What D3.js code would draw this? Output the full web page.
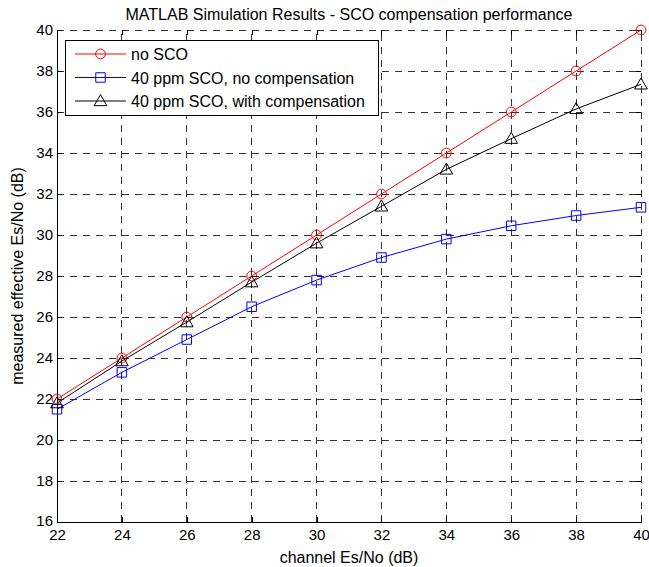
<!DOCTYPE html>
<html>
<head>
<meta charset="utf-8">
<script src="https://cdn.jsdelivr.net/npm/d3@7"></script>
<style>
  body { margin: 0; background: #fff; }
  svg { font-family: "Liberation Sans", Arial, sans-serif; }
</style>
</head>
<body>
<div id="graph"></div>
<script>
const width = 649, height = 567;
const margin = {top: 30, right: 8, bottom: 45, left: 57};

// data
const channelSNR = [22, 24, 26, 28, 30, 32, 34, 36, 38, 40];
const noSCO = [22, 24, 26, 28, 30, 32, 34, 36, 38, 40];
const scoNoComp = [21.5, 23.3, 24.9, 26.5, 27.8, 28.9, 29.8, 30.45, 30.95, 31.35];
const scoWithComp = [21.8, 23.85, 25.75, 27.7, 29.6, 31.4, 33.2, 34.7, 36.15, 37.35];
const xTicks = [22, 24, 26, 28, 30, 32, 34, 36, 38, 40];
const yTicks = [16, 18, 20, 22, 24, 26, 28, 30, 32, 34, 36, 38, 40];

const series = [
  {name: "no SCO", values: noSCO, color: "#ff0000", marker: "circle"},
  {name: "40 ppm SCO, no compensation", values: scoNoComp, color: "#0000ff", marker: "square"},
  {name: "40 ppm SCO, with compensation", values: scoWithComp, color: "#000000", marker: "triangle"}
];

const x = d3.scaleLinear().domain([22, 40]).range([margin.left, width - margin.right]);
const y = d3.scaleLinear().domain([16, 40]).range([height - margin.bottom, margin.top]);

const svg = d3.select("#graph").append("svg")
  .attr("width", width).attr("height", height);

const x0 = x.range()[0], x1 = x.range()[1], y0 = y.range()[0], y1 = y.range()[1];

// grid
const grid = svg.append("g")
  .attr("stroke", "#333").attr("stroke-width", 1)
  .attr("stroke-dasharray", "7,6").attr("shape-rendering", "crispEdges");
grid.selectAll(".gx").data(xTicks.slice(1, -1)).join("line")
  .attr("x1", d => x(d)).attr("x2", d => x(d)).attr("y1", y0).attr("y2", y1);
grid.selectAll(".gy").data(yTicks.slice(1, -1)).join("line")
  .attr("y1", d => y(d)).attr("y2", d => y(d)).attr("x1", x0).attr("x2", x1);
grid.append("line").attr("x1", x0).attr("x2", x1).attr("y1", y1).attr("y2", y1);
grid.append("line").attr("x1", x1).attr("x2", x1).attr("y1", y0).attr("y2", y1);

// axes, ticks drawn inward like matlab
const tk = 5;
svg.append("g").attr("transform", `translate(0,${y0})`)
  .call(d3.axisBottom(x).tickValues(xTicks).tickSizeInner(-tk).tickSizeOuter(0).tickPadding(7));
svg.append("g").attr("transform", `translate(${x0},0)`)
  .call(d3.axisLeft(y).tickValues(yTicks).tickSizeInner(-tk).tickSizeOuter(0).tickPadding(4))
  .selectAll(".tick text").filter(d => d == 16).attr("dy", "0.2em");
svg.append("g").attr("transform", `translate(0,${y1})`)
  .call(d3.axisTop(x).tickValues(xTicks).tickSizeInner(-tk).tickSizeOuter(0).tickFormat(""))
  .select(".domain").remove();
svg.append("g").attr("transform", `translate(${x1},0)`)
  .call(d3.axisRight(y).tickValues(yTicks).tickSizeInner(-tk).tickSizeOuter(0).tickFormat(""))
  .select(".domain").remove();
svg.selectAll(".tick text").attr("font-size", 15).attr("fill", "#000")
  .attr("font-family", "Liberation Sans, Arial, sans-serif");
svg.selectAll(".domain, .tick line").attr("stroke", "#000").attr("shape-rendering", "crispEdges");

// lines
const line = d3.line().x((d, i) => x(channelSNR[i])).y(d => y(d));
const sym = {
  circle: d3.symbol().type(d3.symbolCircle).size(75),
  square: d3.symbol().type(d3.symbolSquare).size(90),
  triangle: d3.symbol().type(d3.symbolTriangle).size(70)
};

series.forEach(s => {
  svg.append("path").datum(s.values)
    .attr("fill", "none").attr("stroke", s.color).attr("stroke-width", 1)
    .attr("d", line);
  svg.append("g").selectAll("path").data(s.values).join("path")
    .attr("transform", (d, i) => `translate(${x(channelSNR[i])},${y(d) + (s.marker == "triangle" ? 1 : 0)})`)
    .attr("d", sym[s.marker]())
    .attr("fill", "none").attr("stroke", s.color).attr("stroke-width", 1);
});

// legend
const legend = svg.append("g").attr("transform", "translate(65,40)");
legend.append("rect").attr("x", 0.5).attr("y", 0.5).attr("width", 313).attr("height", 75)
  .attr("fill", "#fff").attr("stroke", "#000");
const item = legend.selectAll(".item").data(series).join("g")
  .attr("transform", (d, i) => `translate(0,${14 + i * 23.5})`);
item.append("line").attr("x1", 10).attr("x2", 61).attr("y1", 0).attr("y2", 0)
  .attr("stroke", d => d.color);
item.append("path")
  .attr("transform", d => `translate(35.5,${d.marker == "triangle" ? 1 : 0})`)
  .attr("d", d => sym[d.marker]())
  .attr("fill", "none").attr("stroke", d => d.color);
item.append("text").attr("x", 66).attr("y", 6)
  .attr("font-size", 16).text(d => d.name);

// titles
svg.append("text").attr("x", (x0 + x1) / 2).attr("y", 20)
  .attr("text-anchor", "middle").attr("font-size", 16)
  .text("MATLAB Simulation Results - SCO compensation performance");
svg.append("text").attr("x", (x0 + x1) / 2).attr("y", 563)
  .attr("text-anchor", "middle").attr("font-size", 16)
  .text("channel Es/No (dB)");
svg.append("text").attr("transform", `translate(23,${(y0 + y1) / 2}) rotate(-90)`)
  .attr("text-anchor", "middle").attr("font-size", 16)
  .text("measured effective Es/No (dB)");
</script>
</body>
</html>
